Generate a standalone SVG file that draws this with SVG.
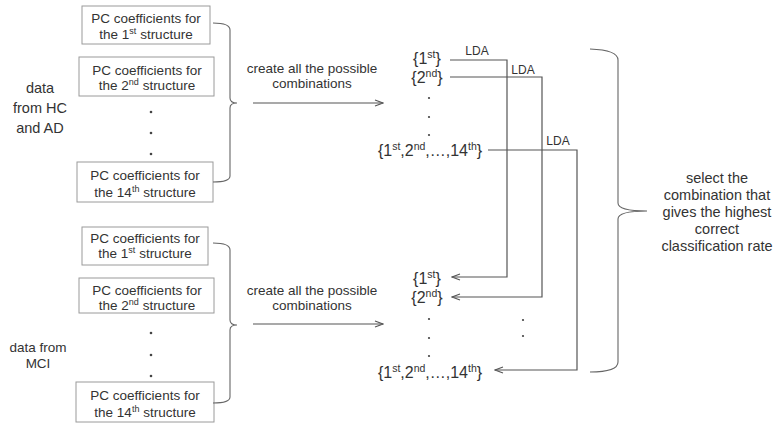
<svg xmlns="http://www.w3.org/2000/svg" width="778" height="424" viewBox="0 0 778 424">
<style>
text{font-family:"Liberation Sans",Arial,sans-serif;fill:#333;text-anchor:middle}
.t{font-size:13.5px}
.l{font-size:14.5px}
.m{font-size:13.5px}
.s{font-size:16px}
.lda{font-size:12px}
.sup{font-size:9px}
.sup2{font-size:10.5px}
.box{fill:#fff;stroke:#9a9a9a;stroke-width:1}
.ln{fill:none;stroke:#555;stroke-width:1.2}
.br{fill:none;stroke:#666;stroke-width:1.1}
.dot{fill:#444}
</style>
<defs>
<marker id="ah" markerWidth="10" markerHeight="8" refX="9" refY="4" orient="auto" markerUnits="userSpaceOnUse">
<polyline points="1,1 9,4 1,7" fill="none" stroke="#555" stroke-width="1.1"/>
</marker>
</defs>
<rect width="778" height="424" fill="#fff"/>

<g id="label-hcad">
<text class="l" x="40" y="93">data</text>
<text class="l" x="40" y="113">from HC</text>
<text class="l" x="40" y="133">and AD</text>
</g>
<g id="label-mci">
<text class="m" x="38" y="352">data from</text>
<text class="m" x="38" y="368">MCI</text>
</g>

<g id="top-box1"><rect class="box" x="82" y="6" width="128" height="38"/>
<text class="t" x="146" y="23">PC coefficients for</text>
<text class="t" x="146" y="39">the 1<tspan class="sup" dy="-5">st</tspan><tspan dy="5"> structure</tspan></text></g>
<g id="top-box2"><rect class="box" x="79" y="57" width="135" height="39"/>
<text class="t" x="147" y="75">PC coefficients  for</text>
<text class="t" x="147" y="90">the 2<tspan class="sup" dy="-5">nd</tspan><tspan dy="5"> structure</tspan></text></g>
<g id="top-dots"><circle class="dot" cx="151" cy="112" r="1.3"/><circle class="dot" cx="151" cy="133" r="1.3"/><circle class="dot" cx="151" cy="154" r="1.3"/></g>
<g id="top-box3"><rect class="box" x="77" y="162" width="136" height="40"/>
<text class="t" x="145" y="180">PC coefficients for</text>
<text class="t" x="145" y="197">the 14<tspan class="sup" dy="-5">th</tspan><tspan dy="5"> structure</tspan></text></g>

<g id="bot-box1"><rect class="box" x="82" y="227" width="126" height="38"/>
<text class="t" x="145" y="243">PC coefficients for</text>
<text class="t" x="145" y="258">the 1<tspan class="sup" dy="-5">st</tspan><tspan dy="5"> structure</tspan></text></g>
<g id="bot-box2"><rect class="box" x="79" y="278" width="135" height="35"/>
<text class="t" x="147" y="295">PC coefficients  for</text>
<text class="t" x="147" y="310">the 2<tspan class="sup" dy="-5">nd</tspan><tspan dy="5"> structure</tspan></text></g>
<g id="bot-dots"><circle class="dot" cx="151" cy="333" r="1.3"/><circle class="dot" cx="151" cy="355" r="1.3"/><circle class="dot" cx="151" cy="376" r="1.3"/></g>
<g id="bot-box3"><rect class="box" x="76" y="382" width="138" height="40"/>
<text class="t" x="145" y="400">PC coefficients for</text>
<text class="t" x="145" y="417">the 14<tspan class="sup" dy="-5">th</tspan><tspan dy="5"> structure</tspan></text></g>

<g id="top-create">
<text class="t" x="312" y="73">create all the possible</text>
<text class="t" x="312" y="88">combinations</text>
</g>
<g id="bot-create">
<text class="t" x="312" y="295">create all the possible</text>
<text class="t" x="312" y="310">combinations</text>
</g>

<g id="top-sets">
<text class="s" x="427" y="64">{1<tspan class="sup2" dy="-6">st</tspan><tspan dy="6">}</tspan></text>
<text class="s" x="427" y="83">{2<tspan class="sup2" dy="-6">nd</tspan><tspan dy="6">}</tspan></text>
<circle class="dot" cx="429" cy="98" r="1.1"/><circle class="dot" cx="429" cy="117" r="1.1"/><circle class="dot" cx="429" cy="135" r="1.1"/>
<text class="s" x="430" y="156">{1<tspan class="sup2" dy="-6">st</tspan><tspan dy="6">,2</tspan><tspan class="sup2" dy="-6">nd</tspan><tspan dy="6">,…,14</tspan><tspan class="sup2" dy="-6">th</tspan><tspan dy="6">}</tspan></text>
</g>
<g id="bot-sets">
<text class="s" x="427" y="284">{1<tspan class="sup2" dy="-6">st</tspan><tspan dy="6">}</tspan></text>
<text class="s" x="427" y="303">{2<tspan class="sup2" dy="-6">nd</tspan><tspan dy="6">}</tspan></text>
<circle class="dot" cx="429" cy="319" r="1.1"/><circle class="dot" cx="429" cy="338" r="1.1"/><circle class="dot" cx="429" cy="356" r="1.1"/>
<text class="s" x="430" y="378">{1<tspan class="sup2" dy="-6">st</tspan><tspan dy="6">,2</tspan><tspan class="sup2" dy="-6">nd</tspan><tspan dy="6">,…,14</tspan><tspan class="sup2" dy="-6">th</tspan><tspan dy="6">}</tspan></text>
<circle class="dot" cx="523" cy="320" r="1.1"/><circle class="dot" cx="523" cy="336" r="1.1"/>
</g>

<g id="result">
<text class="l" x="717" y="183">select the</text>
<text class="l" x="717" y="200">combination that</text>
<text class="l" x="717" y="217">gives the highest</text>
<text class="l" x="717" y="234">correct</text>
<text class="l" x="717" y="251">classification rate</text>
</g>

<g id="connectors">
<path class="br" d="M213,23 Q230,23 230,30 V98 Q230,103 237,103 Q230,103 230,108 V176 Q230,182 213,182"/>
<path class="br" d="M213,243 Q230,243 230,250 V320 Q230,325 237,325 Q230,325 230,330 V397 Q230,403 213,403"/>
<path class="br" d="M590,49 Q618,50 618,60 V203 Q618,211 647,211 Q618,211 618,219 V362 Q618,372 590,372"/>
<line class="ln" x1="253" y1="103" x2="383" y2="103" marker-end="url(#ah)"/>
<line class="ln" x1="253" y1="324" x2="383" y2="324" marker-end="url(#ah)"/>
<path class="ln" d="M450,60 H507 V277 H452" marker-end="url(#ah)"/>
<path class="ln" d="M450,77 H542 V297 H452" marker-end="url(#ah)"/>
<path class="ln" d="M488,150 H577 V370 H495" marker-end="url(#ah)"/>
<text class="lda" x="477" y="55">LDA</text>
<text class="lda" x="523" y="74">LDA</text>
<text class="lda" x="558" y="145">LDA</text>
</g>
</svg>
